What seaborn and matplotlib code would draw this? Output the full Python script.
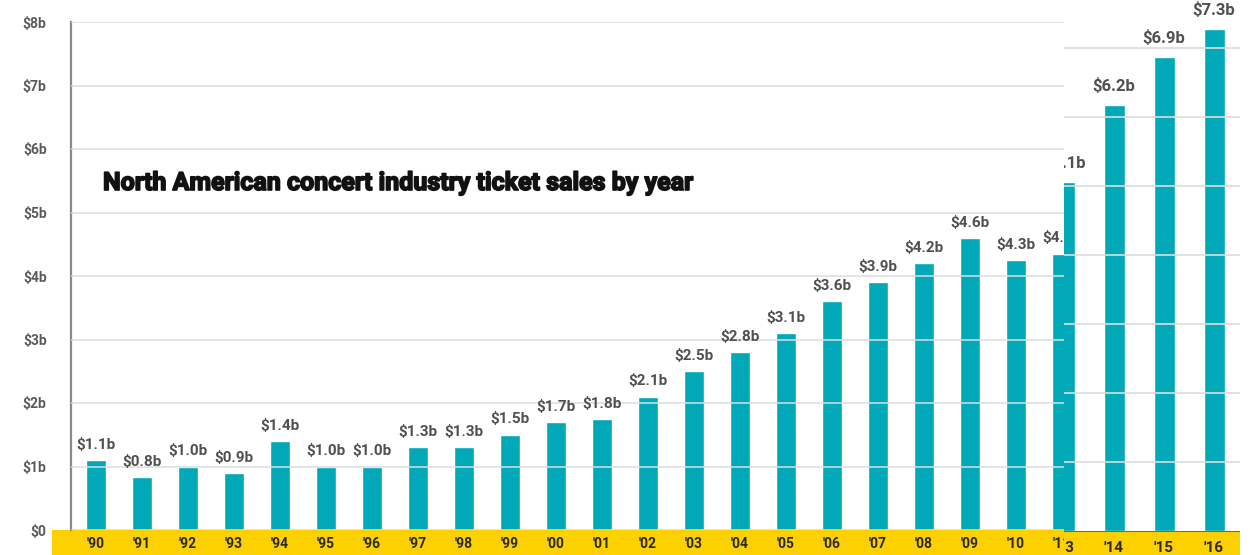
import matplotlib
matplotlib.use("Agg")
import matplotlib.pyplot as plt
import matplotlib.patheffects as pe
import seaborn as sns
import pandas as pd
from matplotlib.patches import Rectangle
from matplotlib.transforms import Bbox, TransformedBbox

# left part of the picture: '90 - '11 (the '11 bar is half covered)
years = ["'90", "'91", "'92", "'93", "'94", "'95", "'96", "'97", "'98", "'99", "'00",
         "'01", "'02", "'03", "'04", "'05", "'06", "'07", "'08", "'09", "'10", "'11"]
sales = [1.1, 0.83, 1.0, 0.9, 1.4, 1.0, 1.0, 1.3, 1.3, 1.5, 1.7,
         1.75, 2.1, 2.5, 2.8, 3.1, 3.6, 3.9, 4.2, 4.6, 4.25, 4.35]
sales_labels = ["$1.1b", "$0.8b", "$1.0b", "$0.9b", "$1.4b", "$1.0b", "$1.0b", "$1.3b", "$1.3b",
                "$1.5b", "$1.7b", "$1.8b", "$2.1b", "$2.5b", "$2.8b", "$3.1b", "$3.6b", "$3.9b",
                "$4.2b", "$4.6b", "$4.3b", "$4.3b"]

# right part, pasted on top at a slightly bigger scale
years2 = ["'13", "'14", "'15", "'16"]
sales2 = [5.06, 6.17, 6.87, 7.27]
sales2_labels = ["$5.1b", "$6.2b", "$6.9b", "$7.3b"]

y_ticks = [0, 1, 2, 3, 4, 5, 6, 7, 8]
y_labels = ["$0", "$1b", "$2b", "$3b", "$4b", "$5b", "$6b", "$7b", "$8b"]

teal = "#00a8b8"
yellow = "#fdd000"
W, H = 1250, 555

sns.set_theme(style="white")
plt.rcParams["font.family"] = ["Roboto", "DejaVu Sans"]

fig = plt.figure(figsize=(12.5, 5.55), dpi=100)
fig.patch.set_facecolor("white")

# ---- main axes
ax = fig.add_axes([71 / W, 25 / H, (1240 - 71) / W, 508 / H])
ax.set_zorder(1)
df = pd.DataFrame({"year": years, "sales": sales})
sns.barplot(data=df, x="year", y="sales", color=teal, saturation=1, width=0.42, ax=ax)
ax.set_xlim(-0.543, 24.87)
ax.set_ylim(0, 8)
ax.set_yticks(y_ticks)
ax.set_yticklabels(y_labels)
ax.set_xlabel("")
ax.set_ylabel("")
ax.set_axisbelow(False)
ax.yaxis.grid(True, color="#dcdcdc", linewidth=1.3, alpha=0.85)
for s in ["top", "right", "bottom"]:
    ax.spines[s].set_visible(False)
ax.spines["left"].set_color("#8a8a8a")
ax.spines["left"].set_linewidth(1.6)
ax.tick_params(axis="y", length=13.5, width=1.6, color="#7a7a7a", pad=4,
               labelsize=10, labelcolor="#5a5a5a")
ax.tick_params(axis="x", length=0, pad=5, labelsize=10, labelcolor="#2a2a2a")
for t in ax.get_xticklabels() + ax.get_yticklabels():
    t.set_fontweight("bold")
ax.yaxis.get_major_ticks()[0].tick1line.set_visible(False)
ax.bar_label(ax.containers[0], labels=sales_labels, padding=6, fontsize=11,
             color="#505050", fontweight="bold")

# yellow strip under the bars
fig.add_artist(Rectangle((52 / W, 0), (1064 - 52) / W, 25 / H, transform=fig.transFigure,
                         facecolor=yellow, edgecolor="none", zorder=0.5))

fig.text(103 / W, 1 - 183 / H, "North American concert industry ticket sales by year",
         fontsize=18, fontweight="bold", color="#111111", va="center", ha="left",
         path_effects=[pe.withStroke(linewidth=1.2, foreground="#111111")])

# ---- pasted right panel
ax2 = fig.add_axes([1064 / W, 24 / H, (1240 - 1064) / W, 531 / H])
ax2.set_zorder(2)
ax2.set_facecolor("white")
df2 = pd.DataFrame({"year": years2, "sales": sales2})
sns.barplot(data=df2, x="year", y="sales", color=teal, saturation=1, width=0.42, ax=ax2)
ax2.set_xlim(0, 3.52)
ax2.set_ylim(0, 531 / 69)
ax2.set_yticks(y_ticks[1:8])
ax2.set_yticklabels([])
ax2.set_xlabel("")
ax2.set_ylabel("")
ax2.set_axisbelow(False)
ax2.yaxis.grid(True, color="#dcdcdc", linewidth=1.4, alpha=0.85)
for s in ax2.spines.values():
    s.set_visible(False)
ax2.tick_params(axis="y", length=0)
ax2.tick_params(axis="x", length=0, pad=7, labelsize=11, labelcolor="#2a2a2a")
clip = TransformedBbox(Bbox.from_extents(1064 / W, 0, 1, 1), fig.transFigure)
for t in ax2.get_xticklabels():
    t.set_fontweight("bold")
    t.set_clip_on(True)
    t.set_clip_box(clip)
ax2.bar_label(ax2.containers[0], labels=sales2_labels, padding=8, fontsize=12,
              color="#505050", fontweight="bold", clip_on=True)

fig.add_artist(Rectangle((1064 / W, 0), (1240 - 1064) / W, 24 / H, transform=fig.transFigure,
                         facecolor=yellow, edgecolor="none", zorder=1.5))
fig.add_artist(Rectangle((1064 / W, 23 / H), (1240 - 1064) / W, 1.5 / H, transform=fig.transFigure,
                         facecolor="#6b6b55", edgecolor="none", zorder=1.6))

fig.savefig("out.png", dpi=100, facecolor="white")
